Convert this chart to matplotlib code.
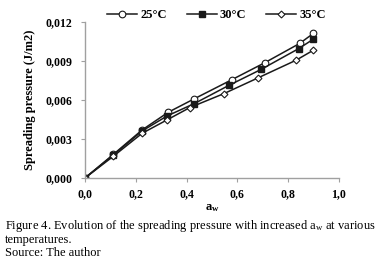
import matplotlib
matplotlib.use("Agg")
import matplotlib.pyplot as plt

aw = [0.0, 0.112, 0.225, 0.328, 0.430, 0.578, 0.707, 0.845, 0.899]
aw_30 = [0.0, 0.112, 0.225, 0.324, 0.431, 0.566, 0.694, 0.842, 0.899]
aw_35 = [0.0, 0.112, 0.225, 0.323, 0.413, 0.548, 0.681, 0.831, 0.899]
p25 = [0.0, 0.00182, 0.00370, 0.00506, 0.00609, 0.00756, 0.00886, 0.01035, 0.01112]
p30 = [0.0, 0.00178, 0.00362, 0.00478, 0.00573, 0.00712, 0.00836, 0.00996, 0.01068]
p35 = [0.0, 0.00168, 0.00344, 0.00447, 0.00542, 0.00650, 0.00770, 0.00906, 0.00983]
labels = ["25°C", "30°C", "35°C"]
xticks = [0.0, 0.2, 0.4, 0.6, 0.8, 1.0]
yticks = [0.0, 0.003, 0.006, 0.009, 0.012]

plt.rcParams['font.family'] = ['Liberation Serif', 'DejaVu Serif']
plt.rcParams['mathtext.fontset'] = 'custom'
plt.rcParams['mathtext.rm'] = 'Liberation Serif'
plt.rcParams['mathtext.it'] = 'Liberation Serif:italic'
plt.rcParams['mathtext.bf'] = 'Liberation Serif:bold'

fig = plt.figure(figsize=(3.77, 2.67), dpi=100)
ax = fig.add_axes([85/377, 1-178/267, 254/377, 156/267])

c = '#1a1a1a'
ax.plot(aw, p25, '-', color=c, lw=1.1, marker='o', ms=4.8, mfc='white', mec=c, mew=0.8, label=labels[0])
ax.plot(aw_30, p30, '-', color=c, lw=1.1, marker='s', ms=4.3, mfc=c, mec=c, label=labels[1])
ax.plot(aw_35, p35, '-', color=c, lw=1.1, marker='D', ms=3.5, mfc='white', mec=c, mew=0.8, label=labels[2])

ax.set_xlim(0, 1.0)
ax.set_ylim(0, 0.012)
ax.set_xticks(xticks)
ax.set_yticks(yticks)
ax.set_xticklabels([f"{t:.1f}".replace('.', ',') for t in xticks], fontweight='bold', fontsize=8.5)
ax.set_yticklabels([f"{t:.3f}".replace('.', ',') for t in yticks], fontweight='bold', fontsize=8.5)
for s in ['top', 'right']:
    ax.spines[s].set_visible(False)
for s in ['left', 'bottom']:
    ax.spines[s].set_color('#a0a0a0')
    ax.spines[s].set_linewidth(1.0)
ax.tick_params(axis='y', direction='out', length=3, color='#a0a0a0', pad=6)
ax.tick_params(axis='x', direction='out', length=3, color='#a0a0a0', pad=4)

ax.set_ylabel("Spreading pressure (J/m2)", fontweight='bold', fontsize=9, labelpad=7)
fig.text((85+339)/2/377, 1-208/267, r"a$_\mathbf{w}$", ha='center', va='center', fontweight='bold', fontsize=9)

ax.legend(loc='center', bbox_to_anchor=(216.5/377, 1-15/267), bbox_transform=fig.transFigure,
          ncol=3, frameon=False, handlelength=2.4, columnspacing=1.6, handletextpad=0.25,
          borderpad=0, prop={'weight': 'bold', 'size': 9})

fig.text(5/377, 1-226/267, "Figure 4. Evolution of the spreading pressure with increased a$_\\mathregular{w}$ at various",
         ha='left', va='center', fontsize=9)
fig.text(5/377, 1-240/267, "temperatures.", ha='left', va='center', fontsize=9)
fig.text(5/377, 1-253/267, "Source: The author", ha='left', va='center', fontsize=9)

fig.savefig("out.png", dpi=100)
